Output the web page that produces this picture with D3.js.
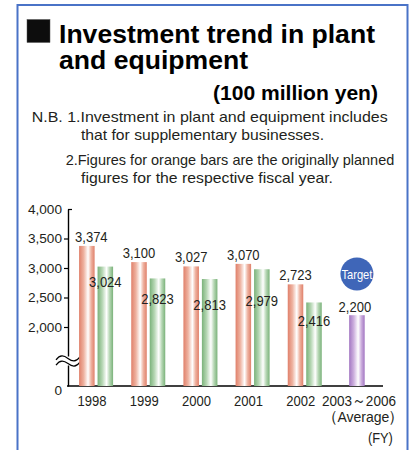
<!DOCTYPE html>
<html>
<head>
<meta charset="utf-8">
<script src="https://cdn.jsdelivr.net/npm/d3@7"></script>
<style>
  html, body { margin: 0; padding: 0; background: #fff; }
  svg { display: block; }
</style>
</head>
<body>
<script>
// Fiscal years and investment figures (100 million yen)
const years = ["1998", "1999", "2000", "2001", "2002", "2003～2006"];
const planned = [3374, 3100, 3027, 3070, 2723];   // originally planned (orange)
const actual = [3024, 2823, 2813, 2979, 2416];    // results (green)
const target = [2200];                            // 2003～2006 average target (purple)
const yTicks = [0, 2000, 2500, 3000, 3500, 4000];

const W = 411, H = 450;
const ink = "#231f20";
const sans = "'Liberation Sans', Arial, Helvetica, sans-serif";

const svg = d3.select("body").append("svg")
  .attr("width", W).attr("height", H)
  .style("font-family", sans);

// Squeeze text horizontally to a condensed look
function condense(sel, k) {
  sel.each(function () {
    const w = this.getComputedTextLength();
    d3.select(this).attr("textLength", w * k).attr("lengthAdjust", "spacingAndGlyphs");
  });
}

// Blue frame
svg.append("rect")
  .attr("x", 17.5).attr("y", 5).attr("width", 390).attr("height", 470)
  .attr("fill", "none").attr("stroke", "#4a73c7").attr("stroke-width", 2);

// Heading
svg.append("rect").attr("x", 27).attr("y", 19.5).attr("width", 23).attr("height", 23)
  .attr("fill", "#0d0d0d").attr("stroke", "#555").attr("stroke-width", 0.5);
svg.append("text").attr("x", 59).attr("y", 43.3)
  .attr("font-size", 26.6).attr("font-weight", "bold").attr("fill", "#000")
  .attr("textLength", 316).attr("lengthAdjust", "spacingAndGlyphs")
  .text("Investment trend in plant");
svg.append("text").attr("x", 59).attr("y", 69.3)
  .attr("font-size", 26.6).attr("font-weight", "bold").attr("fill", "#000")
  .attr("textLength", 189).attr("lengthAdjust", "spacingAndGlyphs")
  .text("and equipment");
svg.append("text").attr("x", 213).attr("y", 100)
  .attr("font-size", 20.5).attr("font-weight", "bold").attr("fill", "#000")
  .attr("textLength", 165).attr("lengthAdjust", "spacingAndGlyphs")
  .text("(100 million yen)");

// Notes
const notes = [
  { t: "N.B. 1.Investment in plant and equipment includes", x: 31.7, y: 122, len: 356 },
  { t: "that for supplementary businesses.", x: 81, y: 140, len: 243 },
  { t: "2.Figures for orange bars are the originally planned", x: 65.7, y: 165, len: 328.6 },
  { t: "figures for the respective fiscal year.", x: 81, y: 183.3, len: 252 }
];
svg.append("g").selectAll("text").data(notes).join("text")
  .attr("x", d => d.x).attr("y", d => d.y)
  .attr("font-size", 15).attr("fill", ink)
  .attr("textLength", d => d.len).attr("lengthAdjust", "spacingAndGlyphs")
  .text(d => d.t);

// Bar gradients
const defs = svg.append("defs");
function stripe(id, edge, mid) {
  const g = defs.append("linearGradient").attr("id", id)
    .attr("x1", 0).attr("x2", 1).attr("y1", 0).attr("y2", 0);
  [[0, edge], [0.3, mid], [0.58, "#ffffff"], [0.78, mid], [1, edge]].forEach(([o, c]) =>
    g.append("stop").attr("offset", o).attr("stop-color", c));
}
stripe("gPlan", "#e0806a", "#eeb2a0");
stripe("gActual", "#7ab27a", "#b5d6b3");
stripe("gTarget", "#a276c2", "#cdb0de");

// Scales: the value axis is broken between 0 and 2,000
const y = d3.scaleLinear().domain([0, 2000, 4000]).range([386, 327, 209]);
const x = d3.scaleBand().domain(years).range([70, 383])
  .paddingInner(0.348).paddingOuter(0.174);
const xs = d3.scaleBand().domain(["plan", "actual"]).range([0, x.bandwidth()])
  .paddingInner(0.16);
const barW = xs.bandwidth();

// Y axis
const axisX = 68;
const yAxis = svg.append("g").attr("transform", `translate(${axisX},0)`)
  .call(d3.axisLeft(y).tickValues(yTicks).tickFormat(d3.format(","))
    .tickSize(4).tickSizeOuter(0).tickPadding(2));
yAxis.select(".domain").attr("stroke", "#000").attr("stroke-width", 1.4);
yAxis.selectAll(".tick line").attr("stroke", "#000").attr("stroke-width", 1.2)
  .filter(d => d === 4000).attr("x2", 4);
yAxis.selectAll(".tick text").attr("font-family", sans).attr("font-size", 13.6)
  .attr("fill", ink).filter(d => d === 0).attr("dy", "0.62em");
yAxis.selectAll(".tick").filter(d => d === 0).select("line").remove();

// X baseline
svg.append("line").attr("x1", axisX - 1).attr("x2", 383)
  .attr("y1", y(0)).attr("y2", y(0))
  .attr("stroke", "#000").attr("stroke-width", 1.4);

// Axis break mark
const brk = svg.append("g").attr("transform", `translate(${axisX},361)`);
brk.append("rect").attr("x", -3).attr("y", -4.5).attr("width", 6).attr("height", 9).attr("fill", "#fff");
[-2.6, 2.6].forEach(dy => brk.append("path")
  .attr("d", `M-12,${dy + 1.5} C-8,${dy - 4} -4,${dy - 3} 0,${dy} S8,${dy + 4} 12,${dy - 1.5}`)
  .attr("fill", "none").attr("stroke", "#000").attr("stroke-width", 1.2));

// Bars
const bars = svg.append("g");
bars.selectAll("rect.plan").data(planned).join("rect").attr("class", "plan")
  .attr("x", (d, i) => x(years[i]) + xs("plan")).attr("width", barW)
  .attr("y", d => y(d)).attr("height", d => y(0) - y(d))
  .attr("fill", "url(#gPlan)");
bars.selectAll("rect.actual").data(actual).join("rect").attr("class", "actual")
  .attr("x", (d, i) => x(years[i]) + xs("actual")).attr("width", barW)
  .attr("y", d => y(d)).attr("height", d => y(0) - y(d))
  .attr("fill", "url(#gActual)");
const tx = x(years[5]) + (x.bandwidth() - barW) / 2;
bars.selectAll("rect.target").data(target).join("rect").attr("class", "target")
  .attr("x", tx).attr("width", barW)
  .attr("y", d => y(d)).attr("height", d => y(0) - y(d))
  .attr("fill", "url(#gTarget)");

// Value labels
const fmt = d3.format(",");
const planLabelDx = [4.5, 0, 0, 0, 0];
const actualLabelDrop = [20.5, 25.5, 31, 37, 24];
const vl = svg.append("g").attr("font-size", 15.5)
  .attr("fill", ink).attr("text-anchor", "middle");
vl.selectAll("text.p").data(planned).join("text").attr("class", "p")
  .attr("x", (d, i) => x(years[i]) + xs("plan") + barW / 2 + planLabelDx[i])
  .attr("y", d => y(d) - 4).text(fmt);
vl.selectAll("text.a").data(actual).join("text").attr("class", "a")
  .attr("x", (d, i) => x(years[i]) + xs("actual") + barW / 2)
  .attr("y", (d, i) => y(d) + actualLabelDrop[i]).text(fmt);
vl.selectAll("text.t").data(target).join("text").attr("class", "t")
  .attr("x", tx + barW / 2 - 2).attr("y", d => y(d) - 3).text(fmt);
condense(vl.selectAll("text"), 0.84);

// Target badge
const cx = tx + barW / 2;
svg.append("circle").attr("cx", cx).attr("cy", 274).attr("r", 16.5).attr("fill", "#3f66b8");
svg.append("text").attr("x", cx).attr("y", 278.5)
  .attr("text-anchor", "middle").attr("font-size", 13.5).attr("fill", "#fff")
  .attr("textLength", 31).attr("lengthAdjust", "spacingAndGlyphs")
  .text("Target");

// Category labels
const cl = svg.append("g").attr("font-size", 15.5).attr("fill", ink);
cl.selectAll("text").data(years.slice(0, 5)).join("text")
  .attr("x", d => x(d) + x.bandwidth() / 2 - 4).attr("y", 406)
  .attr("text-anchor", "middle").text(d => d);
condense(cl.selectAll("text"), 0.84);
const lastEnd = x(years[5]) + x.bandwidth() / 2 + 39;
cl.append("text").attr("x", lastEnd).attr("y", 406).attr("text-anchor", "end")
  .attr("textLength", 74).attr("lengthAdjust", "spacingAndGlyphs")
  .text(years[5]);
// "（Average）" built from pieces so the full-width brackets sit close to the word
const avg = cl.append("text").attr("x", lastEnd - 73.5).attr("y", 421.5);
avg.append("tspan").text("（");
avg.append("tspan").attr("dx", -1).attr("font-size", 14).text("Average");
avg.append("tspan").attr("dx", -1).text("）");
cl.append("text").attr("x", lastEnd - 3).attr("y", 443).attr("text-anchor", "end")
  .attr("textLength", 25).attr("lengthAdjust", "spacingAndGlyphs")
  .text("(FY)");
</script>
</body>
</html>
